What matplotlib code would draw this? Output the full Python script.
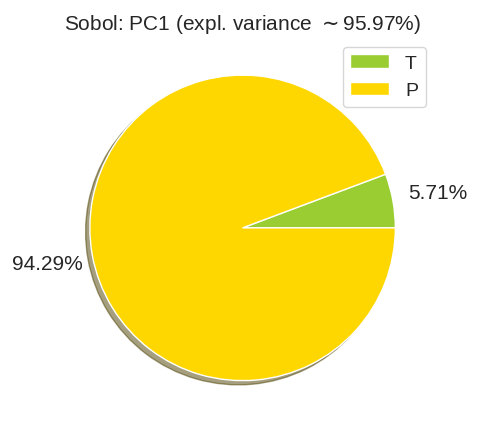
import matplotlib
matplotlib.use("Agg")
import matplotlib.pyplot as plt
import seaborn as sns

sns.set_theme(style="white")
plt.rcParams['font.family'] = ['Liberation Sans', 'DejaVu Sans']

labels = ['T', 'P']
shares = [5.71, 94.29]
colors = ['yellowgreen', 'gold']
expl_var = 95.97

fig, ax = plt.subplots(figsize=(4.78, 4.31), dpi=100)
wedges, texts, autotexts = ax.pie(shares, colors=colors, autopct='%1.2f%%',
                                  pctdistance=1.3, shadow=True, startangle=0,
                                  textprops={'fontsize': 15})
ax.set_title(r'Sobol: PC1 (expl. variance $\sim$%.2f%%)' % expl_var, fontsize=15)
ax.legend(wedges, labels, loc='upper right', fontsize=14,
          bbox_to_anchor=(1.005, 1.0))
ax.set_aspect('equal')
fig.subplots_adjust(left=0.04, right=0.975, top=0.912, bottom=0.026)
fig.savefig('out.png', dpi=100)
